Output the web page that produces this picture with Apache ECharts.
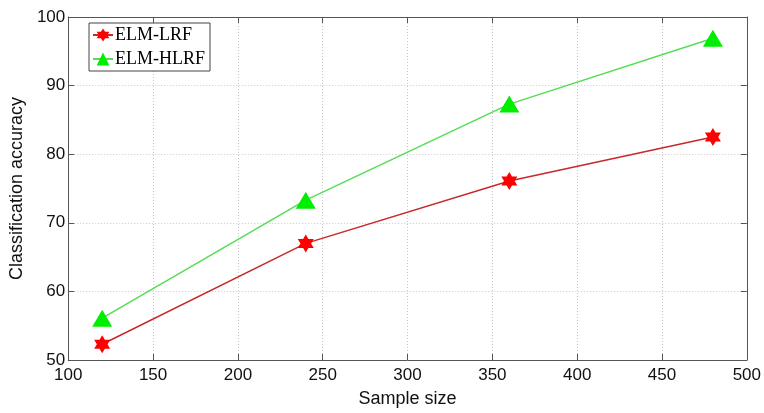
<!DOCTYPE html>
<html>
<head>
<meta charset="utf-8">
<script src="https://cdn.jsdelivr.net/npm/echarts@6/dist/echarts.min.js"></script>
<style>
  html, body { margin: 0; padding: 0; background: #fff; }
  #chart { width: 764px; height: 413px; }
</style>
</head>
<body>
<div id="chart"></div>
<script>
// Sample sizes and classification accuracy for each method
const sampleSizes = [120, 240, 360, 480];
const elmLrf = [52.3, 67.0, 76.1, 82.5];
const elmHlrf = [56.1, 73.3, 87.3, 96.9];
const xTicks = [100, 150, 200, 250, 300, 350, 400, 450, 500];
const yTicks = [50, 60, 70, 80, 90, 100];

// six-pointed star marker
const hexagram = 'path://M50,0 L64.4,25 L93.3,25 L78.9,50 L93.3,75 L64.4,75 L50,100 L35.6,75 L6.7,75 L21.1,50 L6.7,25 L35.6,25 Z';

const axisColor = '#555';
const gridLine = { show: true, lineStyle: { color: '#c8c8c8', type: [1, 2], width: 1 } };

const chart = echarts.init(document.getElementById('chart'), null, { renderer: 'canvas' });

function pairs(xs, ys) { return xs.map((x, i) => [x, ys[i]]); }

chart.setOption({
  animation: false,
  backgroundColor: '#fff',
  grid: { left: 63, right: 16, top: 17, bottom: 50, containLabel: false },
  legend: {
    left: 89, top: 23,
    orient: 'vertical',
    itemWidth: 20, itemHeight: 16, itemGap: 6,
    padding: [3, 5, 3, 3],
    borderColor: '#444', borderWidth: 1, backgroundColor: '#fff',
    textStyle: { fontFamily: 'Liberation Serif', fontSize: 18, color: '#000', padding: [0, 0, 0, -3] },
    data: ['ELM-LRF', 'ELM-HLRF']
  },
  xAxis: [{
    type: 'value', min: xTicks[0], max: xTicks[xTicks.length - 1], interval: 50,
    name: 'Sample size', nameLocation: 'middle', nameGap: 30,
    nameTextStyle: { fontFamily: 'Liberation Sans', fontSize: 18, color: '#111' },
    axisLine: { show: true, lineStyle: { color: axisColor, width: 1 } },
    axisTick: { show: true, inside: true, length: 6, lineStyle: { color: axisColor } },
    axisLabel: { fontFamily: 'Liberation Sans', fontSize: 17, color: '#111', margin: 7 },
    splitLine: gridLine
  }, {
    type: 'value', position: 'top', min: xTicks[0], max: xTicks[xTicks.length - 1], interval: 50,
    axisLine: { show: true, onZero: false, lineStyle: { color: axisColor, width: 1 } },
    axisTick: { show: true, inside: true, length: 6, lineStyle: { color: axisColor } },
    axisLabel: { show: false }, splitLine: { show: false }
  }],
  yAxis: [{
    type: 'value', min: yTicks[0], max: yTicks[yTicks.length - 1], interval: 10,
    name: 'Classification accuracy', nameLocation: 'middle', nameGap: 40,
    nameTextStyle: { fontFamily: 'Liberation Sans', fontSize: 18, color: '#111' },
    axisLine: { show: true, lineStyle: { color: axisColor, width: 1 } },
    axisTick: { show: true, inside: true, length: 6, lineStyle: { color: axisColor } },
    axisLabel: { fontFamily: 'Liberation Sans', fontSize: 17, color: '#111', margin: 3 },
    splitLine: gridLine
  }, {
    type: 'value', position: 'right', min: yTicks[0], max: yTicks[yTicks.length - 1], interval: 10,
    axisLine: { show: true, onZero: false, lineStyle: { color: axisColor, width: 1 } },
    axisTick: { show: true, inside: true, length: 6, lineStyle: { color: axisColor } },
    axisLabel: { show: false }, splitLine: { show: false }
  }],
  series: [{
    name: 'ELM-LRF', type: 'line',
    data: pairs(sampleSizes, elmLrf),
    symbol: hexagram, symbolSize: [16, 18],
    itemStyle: { color: '#ff0000', borderWidth: 0 },
    lineStyle: { color: '#c82828', width: 1.5 }
  }, {
    name: 'ELM-HLRF', type: 'line',
    data: pairs(sampleSizes, elmHlrf),
    symbol: 'triangle', symbolSize: [20, 17],
    itemStyle: { color: '#00ee00', borderWidth: 0 },
    lineStyle: { color: '#55dd55', width: 1.5 }
  }]
});
</script>
</body>
</html>
